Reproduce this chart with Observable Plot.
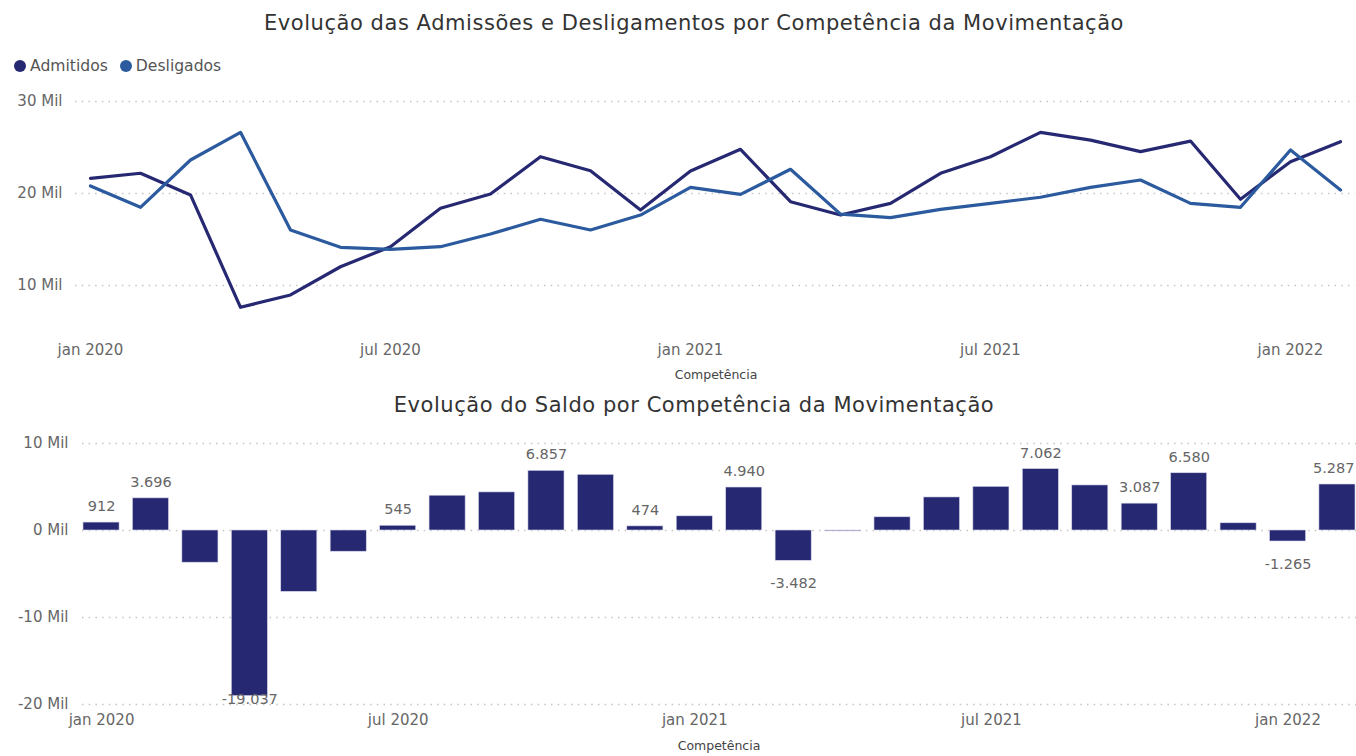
<!DOCTYPE html>
<html><head><meta charset="utf-8">
<script src="https://cdn.jsdelivr.net/npm/d3@7"></script>
<script src="https://cdn.jsdelivr.net/npm/@observablehq/plot@0.6"></script>
<style>
body{margin:0;background:#fff;width:1356px;height:756px;overflow:hidden;position:relative;font-family:"DejaVu Sans",sans-serif;}
.title{position:absolute;left:16px;width:1356px;text-align:center;font-size:21px;color:#333;letter-spacing:0.55px;}
.axlabel{position:absolute;font-size:12.5px;color:#444;font-weight:500;transform:translateX(-50%);}
#legend{position:absolute;left:14px;top:57px;font-size:15.6px;color:#555;display:flex;align-items:center;}
#legend span.dot{display:inline-block;width:12px;height:12px;border-radius:50%;margin-right:4px;}
#legend span.item{display:flex;align-items:center;margin-right:12px;}
.chart{position:absolute;left:0;}
</style></head><body>
<div class="title" style="top:11px">Evolução das Admissões e Desligamentos por Competência da Movimentação</div>
<div id="legend"></div>
<div id="c1" class="chart" style="top:85px"></div>
<div class="axlabel" style="left:716px;top:367px">Competência</div>
<div class="title" style="top:393px">Evolução do Saldo por Competência da Movimentação</div>
<div id="c2" class="chart" style="top:425px"></div>
<div class="axlabel" style="left:719px;top:738px">Competência</div>
<script>
const months = ["2020-01","2020-02","2020-03","2020-04","2020-05","2020-06","2020-07","2020-08","2020-09","2020-10","2020-11","2020-12",
  "2021-01","2021-02","2021-03","2021-04","2021-05","2021-06","2021-07","2021-08","2021-09","2021-10","2021-11","2021-12",
  "2022-01","2022-02"];
const admitidos = [21650,22200,19840,7630,8970,12040,14220,18390,19950,24000,22480,18200,22450,24800,19110,17660,18930,22200,24000,26650,25800,24550,25700,19370,23460,25630];
const desligados = [20815,18500,23640,26650,16030,14150,13930,14220,15600,17200,16030,17660,20670,19900,22630,17760,17370,18280,18930,19590,20670,21470,18930,18500,24730,20380];
const saldo = [912,3696,-3700,-19037,-7050,-2440,545,4000,4380,6857,6400,474,1630,4940,-3482,-100,1520,3800,5020,7062,5180,3087,6580,830,-1265,5287];
const labeledMonths = ["2020-01","2020-02","2020-04","2020-07","2020-10","2020-12","2021-02","2021-03","2021-08","2021-10","2021-11","2022-01","2022-02"];
const tickMonths = ["2020-01","2020-07","2021-01","2021-07","2022-01"];
const tickLabels = ["jan 2020","jul 2020","jan 2021","jul 2021","jan 2022"];
const seriesNames = ["Admitidos","Desligados"];
const seriesColors = ["#262872","#2b5a9e"];
const topTicks = [10000,20000,30000];
const bottomTicks = [-20000,-10000,0,10000];

const fmt = d3.formatLocale({decimal:",", thousands:".", grouping:[3], currency:["R$",""], minus:"-"}).format(",d");
const milFmt = d => (d/1000) + " Mil";
const xFmt = m => { const i = tickMonths.indexOf(m); return i >= 0 ? tickLabels[i] : ""; };

// legend
const lg = document.getElementById("legend");
seriesNames.forEach((n,i)=>{
  const it = document.createElement("span"); it.className="item";
  const d = document.createElement("span"); d.className="dot"; d.style.background=seriesColors[i];
  it.appendChild(d); it.appendChild(document.createTextNode(n)); lg.appendChild(it);
});

const lineData = [];
months.forEach((m,i)=>{
  lineData.push({month:m, value:admitidos[i], serie:seriesNames[0]});
  lineData.push({month:m, value:desligados[i], serie:seriesNames[1]});
});

const chartTop = Plot.plot({
  width:1356, height:300, marginLeft:75, marginRight:1, marginTop:16, marginBottom:54,
  style:{fontFamily:"DejaVu Sans, sans-serif", fontSize:"15px", color:"#666", background:"transparent"},
  x:{type:"point", domain:months, padding:0.3, round:false, tickFormat:xFmt, tickSize:0, tickPadding:13, label:null},
  y:{domain:[5000,30000], ticks:topTicks, tickFormat:milFmt, tickSize:0, tickPadding:13, label:null},
  color:{domain:seriesNames, range:seriesColors},
  marks:[
    Plot.ruleY(topTicks, {stroke:"#c4c4c4", strokeWidth:1.5, strokeDasharray:"1.5,5.2"}),
    Plot.line(lineData, {x:"month", y:"value", z:"serie", stroke:"serie", strokeWidth:3.2, curve:"linear"})
  ]
});
document.getElementById("c1").appendChild(chartTop);

const lastMonth = months[months.length-1];
const barData = months.map((m,i)=>({month:m, value:saldo[i]}));
const lab = barData.filter(d=>labeledMonths.includes(d.month));
const chartBottom = Plot.plot({
  width:1356, height:331, marginLeft:82, marginRight:0, marginTop:18, marginBottom:52,
  style:{fontFamily:"DejaVu Sans, sans-serif", fontSize:"15px", color:"#666", background:"transparent"},
  x:{type:"band", domain:months, paddingInner:0.27, paddingOuter:0.02, round:false, tickFormat:xFmt, tickSize:0, tickPadding:10, label:null},
  y:{domain:[-20000,10000], ticks:bottomTicks, tickFormat:milFmt, tickSize:0, tickPadding:14, label:null},
  marks:[
    Plot.ruleY(bottomTicks, {stroke:"#c4c4c4", strokeWidth:1.5, strokeDasharray:"1.5,5.2"}),
    Plot.barY(barData, {x:"month", y:"value", fill:"#262872", stroke:"#d8d8ec", strokeWidth:0.6}),
    Plot.text(lab.filter(d=>d.value>=0 && d.month!==lastMonth), {x:"month", y:"value", text:d=>fmt(d.value), dy:-16, fill:"#666", fontSize:14.5}),
    Plot.text(lab.filter(d=>d.value>=0 && d.month===lastMonth), {x:"month", y:"value", text:d=>fmt(d.value), dy:-16, dx:17, textAnchor:"end", fill:"#666", fontSize:14.5}),
    Plot.text(lab.filter(d=>d.value<0 && d.value>-15000), {x:"month", y:"value", text:d=>fmt(d.value), dy:23, fill:"#666", fontSize:14.5}),
    Plot.text(lab.filter(d=>d.value<=-15000), {x:"month", y:"value", text:d=>fmt(d.value), dy:3, fill:"#666", fontSize:14.5})
  ]
});
document.getElementById("c2").appendChild(chartBottom);
</script>
</body></html>
